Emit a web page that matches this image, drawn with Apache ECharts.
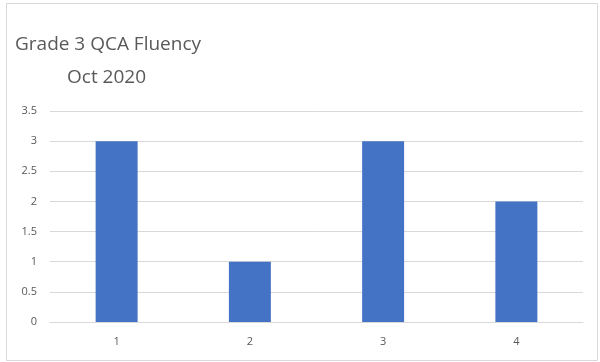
<!DOCTYPE html>
<html><head><meta charset="utf-8">
<script src="https://cdn.jsdelivr.net/npm/echarts@6/dist/echarts.min.js"></script>
<style>html,body{margin:0;padding:0;background:#fff}#c{width:600px;height:362px}</style>
</head><body><div id="c"></div>
<script>
const categories = ['1','2','3','4'];
const values = [3, 1, 3, 2];
const titleLines = ['Grade 3 QCA Fluency', 'Oct 2020'];
const chart = echarts.init(document.getElementById('c'), null, {renderer:'canvas'});
chart.setOption({
  animation:false,
  backgroundColor:'#fff',
  title:[
    {text:titleLines[0], left:10, top:30, textStyle:{fontFamily:'Open Sans', fontSize:19, fontWeight:'normal', color:'#595959'}},
    {text:titleLines[1], left:62, top:63, textStyle:{fontFamily:'Open Sans', fontSize:19, fontWeight:'normal', color:'#595959'}}
  ],
  graphic:[{type:'rect', shape:{x:6.5,y:3.5,width:591,height:357}, style:{fill:null, stroke:'#d9d9d9', lineWidth:1}, silent:true}],
  grid:{left:50, right:17, top:111, bottom:40, containLabel:false},
  xAxis:{type:'category', data:categories,
    axisLine:{show:true, lineStyle:{color:'#d9d9d9'}}, axisTick:{show:false},
    axisLabel:{color:'#595959', fontFamily:'Open Sans', fontSize:11, margin:14}},
  yAxis:{type:'value', min:0, max:3.5, interval:0.5,
    axisLine:{show:false}, axisTick:{show:false},
    splitLine:{lineStyle:{color:'#d9d9d9'}},
    axisLabel:{color:'#595959', fontFamily:'Open Sans', fontSize:11, margin:13}},
  series:[{type:'bar', data:values, barWidth:'31.5%', itemStyle:{color:'#4472c4'}}]
});
</script></body></html>
